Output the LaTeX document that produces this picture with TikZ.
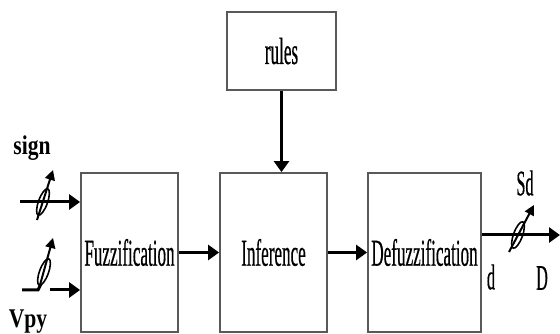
\documentclass[tikz,border=0pt]{standalone}
\usepackage{fontspec}
\setmainfont[FakeStretch=0.45, FakeBold=0.4]{Liberation Serif}
\newfontfamily\lblfont[FakeStretch=0.8]{Liberation Serif}
\usetikzlibrary{arrows.meta,shapes.geometric}

\begin{document}
\begin{tikzpicture}[
        % Define styles
        x=1pt, y=1pt,
        block/.style={draw=black!65, line width=1.8pt, minimum height=159pt, inner sep=0pt, font=\fontsize{38}{40}\selectfont},
        signal/.style={line width=3pt, -{Triangle[length=11pt, width=15pt]}},
        wire/.style={line width=3pt},
        varres/.style={draw, ellipse, line width=1.6pt, inner sep=0pt, minimum width=28pt, minimum height=9pt, rotate=70},
        varrow/.style={line width=2pt, -{Triangle[length=10pt, width=10pt]}},
        sigtext/.style={font=\fontsize{36}{38}\selectfont, inner sep=0pt},
        intext/.style={font=\lblfont\bfseries\fontsize{27}{29}\selectfont, inner sep=0pt}
    ]
        \useasboundingbox (0,0) rectangle (560,334);

        % --- Blocks ---
        \node[block, minimum width=109pt, minimum height=78pt] (rules) at (281.5,283) {rules};
        \node[block, minimum width=97pt] (fuzz) at (129.5,81.5) {Fuzzification};
        \node[block, minimum width=107pt] (infer) at (273.5,81.5) {Inference};
        \node[block, minimum width=113pt] (defuzz) at (424.5,81.5) {Defuzzification};

        % --- Coordinates ---
        % Inputs
        \coordinate (in1) at (20,132);
        \coordinate (in2) at (22,44);
        \coordinate (bend2) at (38,44);
        \coordinate (tap2) at (41,50);
        \coordinate (start2) at (50,44);
        % Output
        \coordinate (dout) at (560,99);

        % --- Draw Edges ---
        \draw[signal] (in1) -- (in1 -| fuzz.west);
        \draw[wire] (in2) -- (bend2) -- (tap2);
        \draw[signal] (start2) -- (start2 -| fuzz.west);
        \draw[signal] (fuzz) -- (infer);
        \draw[signal] (infer) -- (defuzz);
        \draw[signal] (rules.south) -- (rules.south |- infer.north);
        \draw[signal] (defuzz.east |- dout) -- (dout);

        % --- Variable elements ---
        \node[varres] (var1) at (43,132) {};
        \node[varres] (var2) at (44,62) {};
        \node[varres] (var3) at (518,99) {};
        \draw[varrow] ([shift={(-6,-18)}]var1.center) -- ([shift={(10,32)}]var1.center);
        \draw[varrow] ([shift={(-4,-13)}]var2.center) -- ([shift={(9,34)}]var2.center);
        \draw[varrow] ([shift={(-9,-17)}]var3.center) -- ([shift={(16,30)}]var3.center);

        % --- Labels ---
        \node[intext] (sign) at (32,186) {sign};
        \node[intext] (vpy) at (28,12) {Vpy};
        \node[sigtext] (sd) at (525,151) {Sd};
        \node[sigtext] (dlow) at (491,57) {d};
        \node[sigtext] (dup) at (542,56) {D};

    \end{tikzpicture}
\end{document}
